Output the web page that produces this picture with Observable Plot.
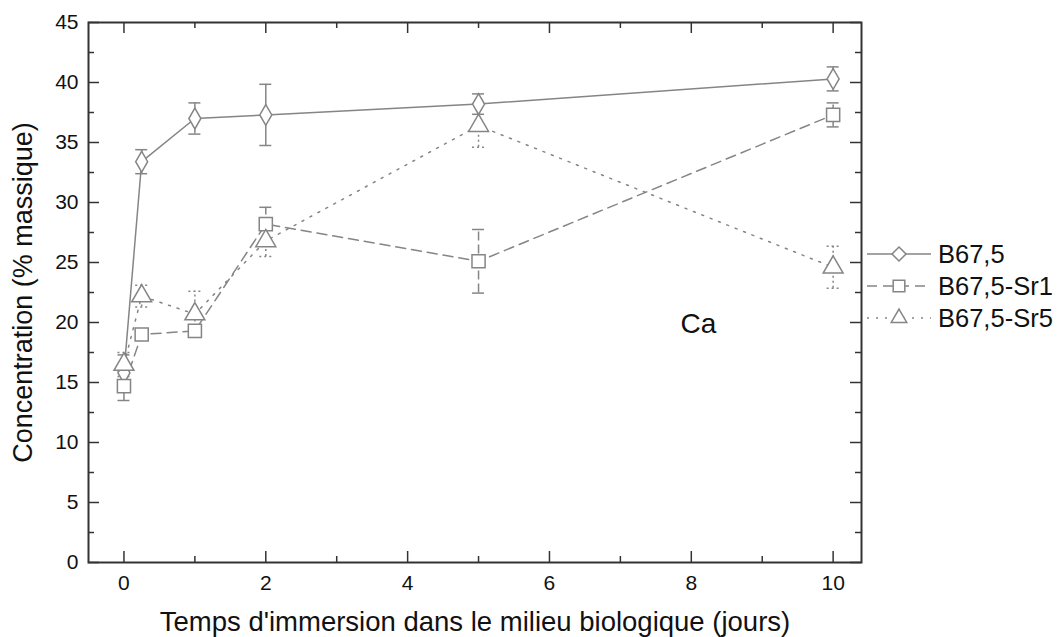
<!DOCTYPE html>
<html>
<head>
<meta charset="utf-8">
<script src="https://cdn.jsdelivr.net/npm/d3@7"></script>
<script src="https://cdn.jsdelivr.net/npm/@observablehq/plot@0.6"></script>
<style>
  body { margin: 0; background: #fff; font-family: "Liberation Sans", Arial, sans-serif; }
  #wrap { position: relative; width: 1063px; height: 637px; }
  #legend { position: absolute; left: 867px; top: 238px; }
  .item { display: flex; align-items: center; height: 32px; font-size: 25.5px; color: #111; white-space: nowrap; }
  .item svg { margin-right: 7px; display: block; }
</style>
</head>
<body>
<div id="wrap"><div id="legend"></div></div>
<script>
// ---- data ----
const times = [0, 0.25, 1, 2, 5, 10];
const seriesNames = ["B67,5", "B67,5-Sr1", "B67,5-Sr5"];
const b675 = [15.8, 33.4, 37.0, 37.3, 38.2, 40.3];
const b675Err = [1.5, 1.0, 1.3, 2.55, 0.85, 1.0];
const sr1 = [14.7, 19.0, 19.3, 28.2, 25.1, 37.3];
const sr1Err = [1.2, 0.4, 0.5, 1.4, 2.65, 1.0];
const sr5 = [16.5, 22.2, 20.7, 26.8, 36.4, 24.6];
const sr5Err = [1.0, 0.9, 1.9, 1.3, 1.8, 1.75];
const xDomain = [-0.5, 10.4];
const yDomain = [0, 45];
const xMajor = [0, 2, 4, 6, 8, 10];
const xMinor = [1, 3, 5, 7, 9];
const yMajor = [0, 5, 10, 15, 20, 25, 30, 35, 40, 45];
const yMinor = [2.5, 7.5, 12.5, 17.5, 22.5, 27.5, 32.5, 37.5, 42.5];
const xTitle = "Temps d'immersion dans le milieu biologique (jours)";
const yTitle = "Concentration (% massique)";
const annotation = [{x: 8.1, y: 19.9, text: "Ca"}];

// ---- styles ----
const gray = "#858585";
const frameColor = "#333";
const styles = [
  {symbol: "diamond", r: 6.3, dash: null, sym: d3.symbolDiamond2},
  {symbol: "square", r: 7.4, dash: "10,6", sym: d3.symbolSquare2},
  {symbol: "triangle", r: 7.4, dash: "2,7", sym: d3.symbolTriangle2}
];
const valuesList = [b675, sr1, sr5];
const errorsList = [b675Err, sr1Err, sr5Err];

const seriesMarks = [];
seriesNames.forEach((name, k) => {
  const st = styles[k];
  const rows = times.map((t, i) => ({t, v: valuesList[k][i], e: errorsList[k][i]}));
  const dashOpt = st.dash ? {strokeDasharray: st.dash} : {};
  seriesMarks.push(Plot.line(rows, {x: "t", y: "v", stroke: gray, strokeWidth: 1.5, ...dashOpt}));
  const errDash = st.dash ? {strokeDasharray: k === 2 ? "2,3" : "9,4"} : {};
  const capDash = k === 2 ? {strokeDasharray: "2,3"} : {};
  seriesMarks.push(Plot.ruleX(rows, {x: "t", y1: d => d.v - d.e, y2: d => d.v + d.e, stroke: gray, strokeWidth: 1.5, ...errDash}));
  seriesMarks.push(Plot.ruleY(rows, {y: d => d.v + d.e, x1: "t", x2: "t", insetLeft: -6, insetRight: -6, stroke: gray, strokeWidth: 1.5, ...capDash}));
  seriesMarks.push(Plot.ruleY(rows, {y: d => d.v - d.e, x1: "t", x2: "t", insetLeft: -6, insetRight: -6, stroke: gray, strokeWidth: 1.5, ...capDash}));
});
seriesNames.forEach((name, k) => {
  const st = styles[k];
  const rows = times.map((t, i) => ({t, v: valuesList[k][i]}));
  seriesMarks.push(Plot.dot(rows, {x: "t", y: "v", symbol: st.symbol, r: st.r, fill: "white", stroke: gray, strokeWidth: 1.5}));
});

const tickStyle = {stroke: frameColor, strokeWidth: 1.5};
const x0 = () => xDomain[0], x1 = () => xDomain[1];
const y0 = () => yDomain[0], y1 = () => yDomain[1];

const chart = Plot.plot({
  width: 1063,
  height: 637,
  marginLeft: 88,
  marginRight: 202,
  marginTop: 22,
  marginBottom: 75,
  x: {domain: xDomain, axis: null},
  y: {domain: yDomain, axis: null},
  style: {fontFamily: "'Liberation Sans', Arial, sans-serif", fontSize: "20px", color: "#111", background: "white"},
  marks: [
    ...seriesMarks,
    // inward ticks: bottom & top
    Plot.ruleX(xMajor, {x: d => d, y1: y0, y2: y0, insetTop: -11, ...tickStyle}),
    Plot.ruleX(xMinor, {x: d => d, y1: y0, y2: y0, insetTop: -6, ...tickStyle}),
    Plot.ruleX(xMajor, {x: d => d, y1: y1, y2: y1, insetBottom: -11, ...tickStyle}),
    Plot.ruleX(xMinor, {x: d => d, y1: y1, y2: y1, insetBottom: -6, ...tickStyle}),
    // inward ticks: left & right
    Plot.ruleY(yMajor, {y: d => d, x1: x0, x2: x0, insetRight: -11, ...tickStyle}),
    Plot.ruleY(yMinor, {y: d => d, x1: x0, x2: x0, insetRight: -6, ...tickStyle}),
    Plot.ruleY(yMajor, {y: d => d, x1: x1, x2: x1, insetLeft: -11, ...tickStyle}),
    Plot.ruleY(yMinor, {y: d => d, x1: x1, x2: x1, insetLeft: -6, ...tickStyle}),
    Plot.frame({stroke: frameColor, strokeWidth: 2}),
    // tick labels
    Plot.text(xMajor, {x: d => d, text: d => String(d), frameAnchor: "bottom", lineAnchor: "middle", dy: 21, fontSize: 21, fill: "#111"}),
    Plot.text(yMajor, {y: d => d, text: d => String(d), frameAnchor: "left", textAnchor: "end", lineAnchor: "middle", dx: -10, fontSize: 21, fill: "#111"}),
    // titles
    Plot.text([xTitle], {text: d => d, frameAnchor: "bottom", lineAnchor: "middle", dy: 60, fontSize: 27.5, fill: "#111"}),
    Plot.text([yTitle], {text: d => d, frameAnchor: "left", textAnchor: "middle", lineAnchor: "middle", dx: -65, rotate: -90, fontSize: 27, fill: "#111"}),
    Plot.text(annotation, {x: "x", y: "y", text: "text", fontSize: 28, fill: "#111"})
  ]
});
document.getElementById("wrap").prepend(chart);

// ---- legend ----
const legend = d3.select("#legend");
seriesNames.forEach((name, k) => {
  const st = styles[k];
  const item = legend.append("div").attr("class", "item");
  const svg = item.append("svg").attr("width", 64).attr("height", 32);
  svg.append("line").attr("x1", 0).attr("x2", 64).attr("y1", 16).attr("y2", 16)
    .attr("stroke", gray).attr("stroke-width", 1.5)
    .attr("stroke-dasharray", st.dash || null);
  svg.append("path").attr("transform", "translate(32,16)")
    .attr("d", d3.symbol(st.sym, st.r * st.r * Math.PI)())
    .attr("fill", "white").attr("stroke", gray).attr("stroke-width", 1.5);
  item.append("span").text(name);
});
</script>
</body>
</html>
